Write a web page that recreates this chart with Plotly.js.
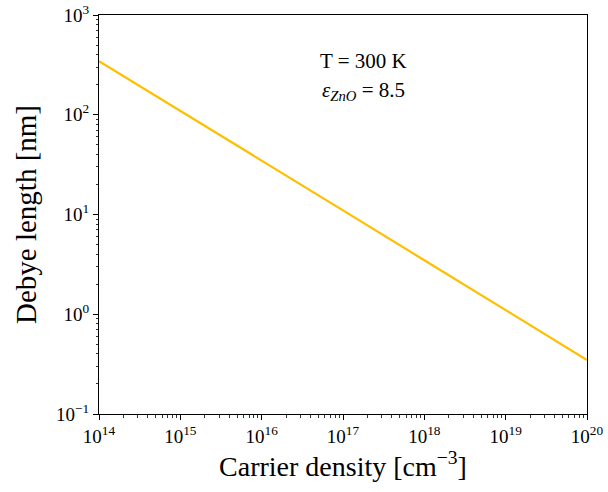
<!DOCTYPE html>
<html><head><meta charset="utf-8">
<script src="https://cdn.plot.ly/plotly-3.0.1.min.js"></script>
<style>html,body{margin:0;padding:0;background:#fff}#chart{width:608px;height:492px}</style>
</head><body><div id="chart"></div>
<script>
const carrierDensity = [1e14, 1e15, 1e16, 1e17, 1e18, 1e19, 1e20];
const debyeLength = [345, 110, 34.8, 11.0, 3.48, 1.10, 0.348];
const xTickVals = [1e14, 1e15, 1e16, 1e17, 1e18, 1e19, 1e20];
const xTickText = ['10<sup>14</sup>', '10<sup>15</sup>', '10<sup>16</sup>', '10<sup>17</sup>', '10<sup>18</sup>', '10<sup>19</sup>', '10<sup>20</sup>'];
const yTickVals = [0.1, 1, 10, 100, 1000];
const yTickText = ['10<sup>−1</sup>', '10<sup>0</sup>', '10<sup>1</sup>', '10<sup>2</sup>', '10<sup>3</sup>'];
const tempLabel = 'T = 300 K';
const epsLabel = '<i>ε</i><sub><i>ZnO</i></sub> = 8.5';

const fam = 'Liberation Serif, Times New Roman, serif';
const axisCommon = {
  type: 'log', showline: true, linecolor: '#000', linewidth: 1, mirror: true,
  ticks: 'outside', ticklen: 5, tickwidth: 1, tickcolor: '#000',
  showgrid: false, zeroline: false, tickmode: 'array',
  tickfont: {family: fam, size: 19, color: '#000'},
  minor: {ticks: 'outside', ticklen: 2.5, tickwidth: 0.8, tickcolor: '#000', dtick: 'D1', showgrid: false}
};

const trace = {
  x: carrierDensity, y: debyeLength, type: 'scatter', mode: 'lines',
  line: {color: '#FFBF00', width: 2.2}, hoverinfo: 'skip'
};

const layout = {
  width: 608, height: 492,
  margin: {l: 99, r: 21, t: 15, b: 78},
  paper_bgcolor: '#fff', plot_bgcolor: '#fff', showlegend: false,
  font: {family: fam, color: '#000'},
  xaxis: Object.assign({}, axisCommon, {
    range: [14, 20], tickvals: xTickVals, ticktext: xTickText,
    title: {text: 'Carrier density [cm<sup>−3</sup>]', font: {family: fam, size: 28, color: '#000'}, standoff: 8}
  }),
  yaxis: Object.assign({}, axisCommon, {
    range: [-1, 3], tickvals: yTickVals, ticktext: yTickText,
    title: {text: 'Debye length [nm]', font: {family: fam, size: 29, color: '#000'}, standoff: 10}
  }),
  annotations: [
    {xref: 'paper', yref: 'paper', x: 0.541, y: 0.885, text: tempLabel, showarrow: false,
     xanchor: 'center', yanchor: 'middle', font: {family: fam, size: 21, color: '#000'}},
    {xref: 'paper', yref: 'paper', x: 0.541, y: 0.81, text: epsLabel, showarrow: false,
     xanchor: 'center', yanchor: 'middle', font: {family: fam, size: 21, color: '#000'}}
  ]
};
Plotly.newPlot('chart', [trace], layout, {displayModeBar: false, staticPlot: true});
</script></body></html>
